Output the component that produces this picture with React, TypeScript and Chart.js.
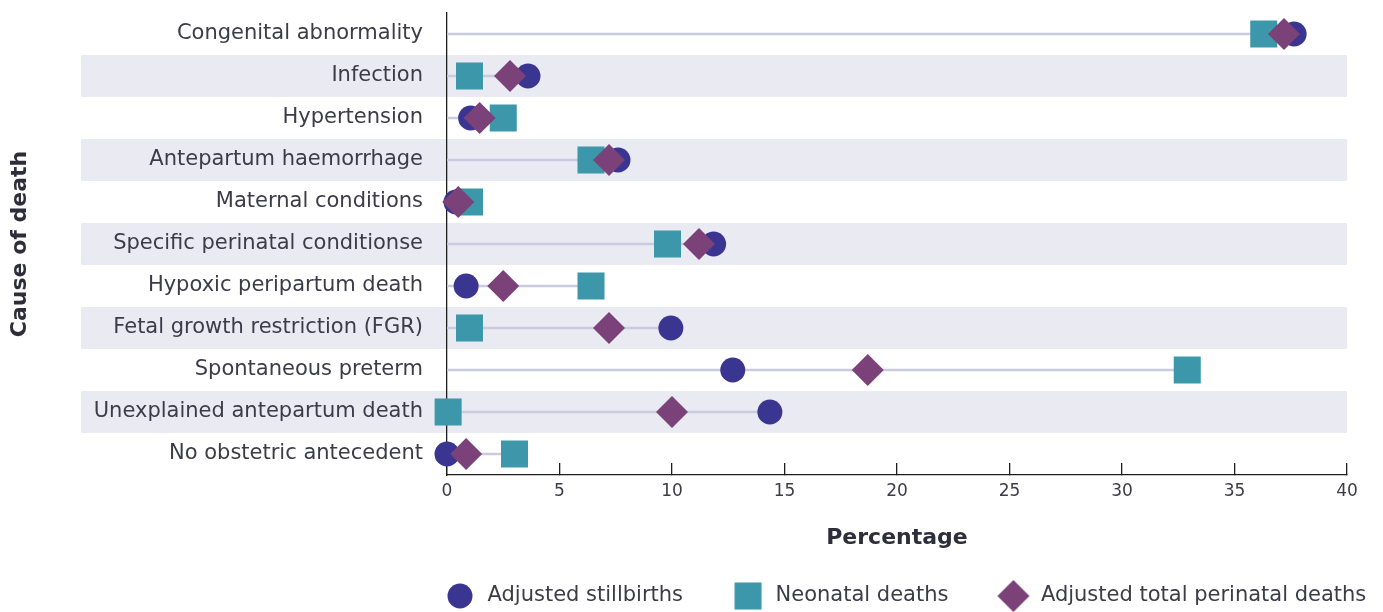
import React, { useEffect, useRef } from 'react';
import { Chart, registerables } from 'chart.js';

Chart.register(...registerables);

const categories = [
  'Congenital abnormality',
  'Infection',
  'Hypertension',
  'Antepartum haemorrhage',
  'Maternal conditions',
  'Specific perinatal conditionse',
  'Hypoxic peripartum death',
  'Fetal growth restriction (FGR)',
  'Spontaneous preterm',
  'Unexplained antepartum death',
  'No obstetric antecedent',
];
const stillbirths = [37.65, 3.6, 1.05, 7.6, 0.4, 11.85, 0.85, 9.95, 12.7, 14.35, 0.0];
const neonatalDeaths = [36.3, 1.0, 2.5, 6.4, 1.0, 9.8, 6.4, 1.0, 32.9, 0.05, 3.0];
const perinatalDeaths = [37.2, 2.8, 1.45, 7.2, 0.5, 11.2, 2.5, 7.2, 18.7, 10.0, 0.85];
const seriesLabels = ['Adjusted stillbirths', 'Neonatal deaths', 'Adjusted total perinatal deaths'];
const xTickValues = [0, 5, 10, 15, 20, 25, 30, 35, 40];
const xTitle = 'Percentage';
const yTitle = 'Cause of death';

const COLORS = {
  still: '#3a3590',
  neo: '#3b97a9',
  peri: '#7b4179',
  band: '#eaeaf3',
  link: '#cbcbe0',
  text: '#3c3c48',
  title: '#2e2e3a',
  axis: '#1e1e1e',
};
const FONT = "'DejaVu Sans', sans-serif";
const LEGEND_PAD = 48;

function makeSwatch(style: string, color: string, r: number) {
  const c = document.createElement('canvas');
  c.width = 34;
  c.height = 34;
  const ctx = c.getContext('2d')!;
  const m = 17;
  ctx.fillStyle = color;
  ctx.beginPath();
  if (style === 'circle') {
    ctx.arc(m, m, r, 0, Math.PI * 2);
  } else if (style === 'rect') {
    const h = r * Math.SQRT1_2;
    ctx.rect(m - h, m - h, 2 * h, 2 * h);
  } else {
    ctx.moveTo(m - r, m);
    ctx.lineTo(m, m - r);
    ctx.lineTo(m + r, m);
    ctx.lineTo(m, m + r);
    ctx.closePath();
  }
  ctx.fill();
  return c;
}

const bandsPlugin = {
  id: 'bands',
  beforeDraw(chart: any) {
    const { ctx, chartArea, scales } = chart;
    const y = scales.y;
    const step = y.getPixelForValue(1) - y.getPixelForValue(0);
    const left = 81;
    ctx.save();
    ctx.fillStyle = COLORS.band;
    categories.forEach((_, i) => {
      if (i % 2 === 1) {
        const yc = y.getPixelForValue(i);
        ctx.fillRect(left, yc - step / 2, chartArea.right - left, step);
      }
    });
    ctx.restore();
  },
};

const legendPlacer = {
  id: 'legendPlacer',
  beforeLayout(chart: any) {
    const lg = chart.legend;
    if (lg && !lg.__wrapped) {
      const orig = lg.fit.bind(lg);
      lg.fit = () => {
        orig();
        lg.height = 60;
      };
      lg.__wrapped = true;
    }
  },
  afterLayout(chart: any) {
    const lg = chart.legend;
    const ca = chart.chartArea;
    if (!lg) return;
    lg.left = ca.left - 4 - LEGEND_PAD;
    lg.right = lg.left + 1500;
    lg.top = ca.bottom + 62.5;
    lg.bottom = chart.height;
    lg.width = lg.right - lg.left;
    lg.height = lg.bottom - lg.top;
  },
};

export default function App() {
  const canvasRef = useRef<HTMLCanvasElement | null>(null);

  useEffect(() => {
    if (!canvasRef.current) return;

    const pointSets = [
      { label: seriesLabels[0], values: stillbirths, style: 'circle', radius: 12.5, color: COLORS.still, order: 3 },
      { label: seriesLabels[1], values: neonatalDeaths, style: 'rect', radius: 19.1, color: COLORS.neo, order: 2 },
      { label: seriesLabels[2], values: perinatalDeaths, style: 'rectRot', radius: 16, color: COLORS.peri, order: 1 },
    ];
    const swatches = pointSets.map((s) => makeSwatch(s.style, s.color, s.radius));

    const pointDatasets = pointSets.map((s) => ({
      type: 'scatter',
      label: s.label,
      data: s.values.map((v, i) => ({ x: v, y: categories[i] })),
      pointStyle: s.style,
      pointRadius: s.radius,
      pointHoverRadius: s.radius,
      backgroundColor: s.color,
      borderColor: s.color,
      pointBorderWidth: 0,
      borderWidth: 0,
      order: s.order,
      clip: false,
    }));

    const linkDatasets = categories.map((c, i) => {
      const vals = [stillbirths[i], neonatalDeaths[i], perinatalDeaths[i]];
      return {
        type: 'line',
        label: 'link-' + c,
        data: [
          { x: xTickValues[0], y: c },
          { x: Math.max(...vals), y: c },
        ],
        borderColor: COLORS.link,
        borderWidth: 2.5,
        pointRadius: 0,
        pointHoverRadius: 0,
        showLine: true,
        order: 10,
      };
    });

    const chart = new Chart(canvasRef.current, {
      type: 'scatter',
      data: { labels: categories, datasets: [...pointDatasets, ...linkDatasets] as any },
      options: {
        animation: false,
        responsive: false,
        events: [],
        layout: { autoPadding: false, padding: { top: 13, right: 36, bottom: 0, left: 0 } },
        plugins: {
          tooltip: { enabled: false },
          legend: {
            display: true,
            position: 'bottom',
            align: 'start',
            labels: {
              usePointStyle: true,
              pointStyleWidth: 34,
              padding: LEGEND_PAD,
              color: COLORS.text,
              font: { family: FONT, size: 21 },
              generateLabels: () =>
                pointSets.map((s, i) => ({
                  text: s.label,
                  pointStyle: swatches[i],
                  fillStyle: s.color,
                  strokeStyle: s.color,
                  lineWidth: 0,
                  hidden: false,
                  datasetIndex: i,
                  fontColor: COLORS.text,
                })),
            },
          },
        },
        scales: {
          x: {
            type: 'linear',
            min: xTickValues[0],
            max: xTickValues[xTickValues.length - 1],
            afterBuildTicks: (s: any) => {
              s.ticks = xTickValues.map((v) => ({ value: v }));
            },
            afterFit: (s: any) => {
              s.height = 77;
              s.paddingLeft = 0;
              s.paddingRight = 0;
              s.paddingTop = 0;
              s.paddingBottom = 0;
            },
            grid: { display: true, drawOnChartArea: false, drawTicks: true, tickLength: -12, color: COLORS.axis, lineWidth: 1.3 },
            border: { display: true, color: COLORS.axis, width: 1.3 },
            ticks: { padding: 18, color: COLORS.text, font: { family: FONT, size: 17 } },
            title: {
              display: true,
              text: xTitle,
              color: COLORS.title,
              font: { family: FONT, size: 22, weight: 'bold' },
              padding: { top: 0, bottom: 1 },
            },
          },
          y: {
            type: 'category',
            labels: categories,
            offset: true,
            afterFit: (s: any) => {
              s.width = 447;
              s.paddingTop = 0;
              s.paddingBottom = 0;
              s.paddingLeft = 0;
              s.paddingRight = 0;
            },
            grid: { display: true, drawOnChartArea: false, drawTicks: true, tickLength: 24, color: 'rgba(0,0,0,0)' },
            border: { display: true, color: COLORS.axis, width: 1.3 },
            ticks: { padding: 0, autoSkip: false, color: COLORS.text, font: { family: FONT, size: 21 } },
            title: {
              display: true,
              text: yTitle,
              color: COLORS.title,
              font: { family: FONT, size: 22, weight: 'bold' },
              padding: { top: 7, bottom: 0 },
            },
          },
        },
      } as any,
      plugins: [bandsPlugin, legendPlacer],
    });

    return () => chart.destroy();
  }, []);

  return (
    <canvas
      ref={canvasRef}
      width={1383}
      height={612}
      style={{ position: 'fixed', left: 0, top: 0, width: 1383, height: 612, display: 'block' }}
    />
  );
}
